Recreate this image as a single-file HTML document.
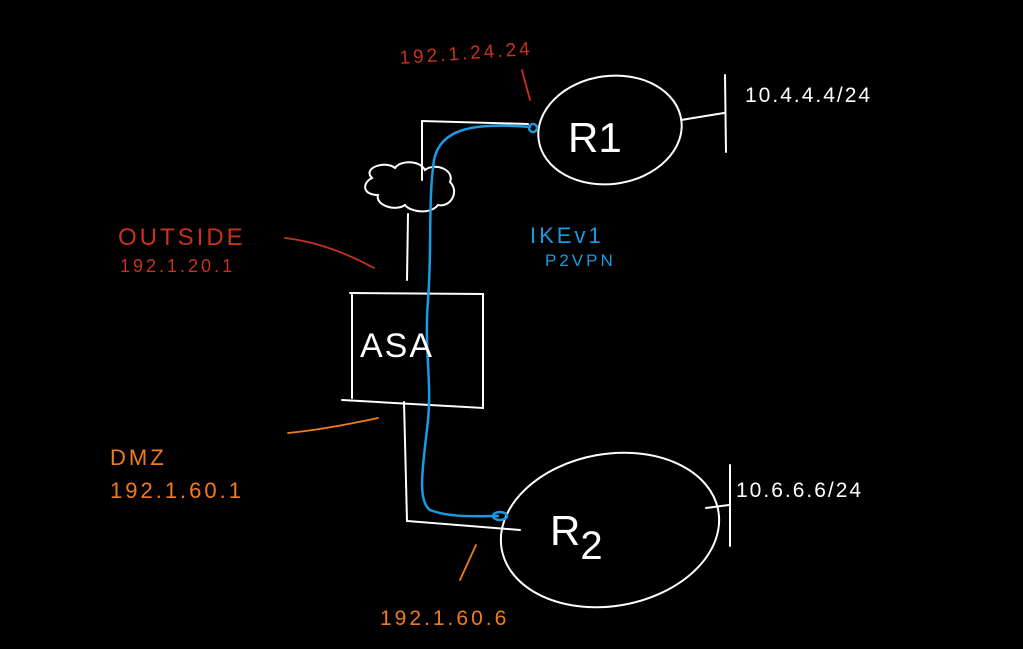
<!DOCTYPE html>
<html><head><meta charset="utf-8"><style>
html,body{margin:0;padding:0;background:#000;width:1023px;height:649px;overflow:hidden}
svg{display:block}
text{font-family:"Liberation Sans",sans-serif}
</style></head><body>
<svg width="1023" height="649" viewBox="0 0 1023 649" xmlns="http://www.w3.org/2000/svg">
<rect width="1023" height="649" fill="#000"/>
<g fill="none" stroke="#fff" stroke-width="2" stroke-linecap="round">
  <!-- R1 -->
  <ellipse cx="610" cy="130" rx="72" ry="54" transform="rotate(-8 610 130)"/>
  <path d="M681 120 L724 113 M725 75 L726 152"/>
  <!-- top bracket -->
  <path d="M422 180 L422 121 L528 124"/>
  <!-- cloud -->
  <path d="M372 178 C362 168,385 160,395 168 C400 160,420 160,425 170 C435 162,455 170,450 182 C460 192,450 208,438 205 C430 215,410 212,405 205 C395 212,375 205,378 195 C362 195,362 183,372 178 Z"/>
  <path d="M408 214 L407 280"/>
  <!-- ASA box -->
  <path d="M350 293 L483 294 L483 408 L342 400 M352 293 L352 398"/>
  <!-- bottom bracket -->
  <path d="M404 402 L407 521 L520 530"/>
  <!-- R2 -->
  <ellipse cx="610" cy="530" rx="110" ry="76" transform="rotate(-10 610 530)"/>
  <path d="M706 508 L729 505 M730 465 L730 546"/>
</g>
<!-- blue tunnel -->
<g fill="none" stroke="#1a9be0" stroke-width="2.5" stroke-linecap="round">
  <path d="M530 127 C470 122,440 130,434 160 C428 200,432 250,428 300 C424 350,432 380,428 420 C424 460,416 500,430 510 C450 518,480 516,498 516"/>
  <circle cx="533" cy="128" r="4"/>
  <ellipse cx="500" cy="516" rx="7" ry="4"/>
</g>
<!-- red -->
<g fill="none" stroke="#c8321e" stroke-width="1.8" stroke-linecap="round">
  <path d="M522 70 L530 100"/>
  <path d="M285 238 C320 242,350 255,374 268"/>
</g>
<!-- orange -->
<g fill="none" stroke="#f07d1a" stroke-width="1.8" stroke-linecap="round">
  <path d="M288 433 C320 430,350 424,378 418"/>
  <path d="M476 545 L460 580"/>
</g>
<g font-size="19" fill="#c8321e" letter-spacing="3">
  <text x="400" y="64" transform="rotate(-4 400 64)">192.1.24.24</text>
  <text x="118" y="245" font-size="24">OUTSIDE</text>
  <text x="120" y="272" font-size="18">192.1.20.1</text>
</g>
<g fill="#f07d1a" letter-spacing="3">
  <text x="110" y="465" font-size="22">DMZ</text>
  <text x="110" y="498" font-size="22">192.1.60.1</text>
  <text x="380" y="625" font-size="21">192.1.60.6</text>
</g>
<g fill="#1a9be0" letter-spacing="3">
  <text x="530" y="243" font-size="22">IKEv1</text>
  <text x="545" y="266" font-size="17">P2VPN</text>
</g>
<g fill="#fff">
  <text x="568" y="152" font-size="42">R1</text>
  <text x="550" y="545" font-size="42">R<tspan font-size="40" dy="14">2</tspan></text>
  <text x="360" y="357" font-size="34" letter-spacing="2">ASA</text>
  <text x="745" y="102" font-size="21" letter-spacing="2">10.4.4.4/24</text>
  <text x="736" y="497" font-size="21" letter-spacing="2">10.6.6.6/24</text>
</g>
</svg>
</body></html>
